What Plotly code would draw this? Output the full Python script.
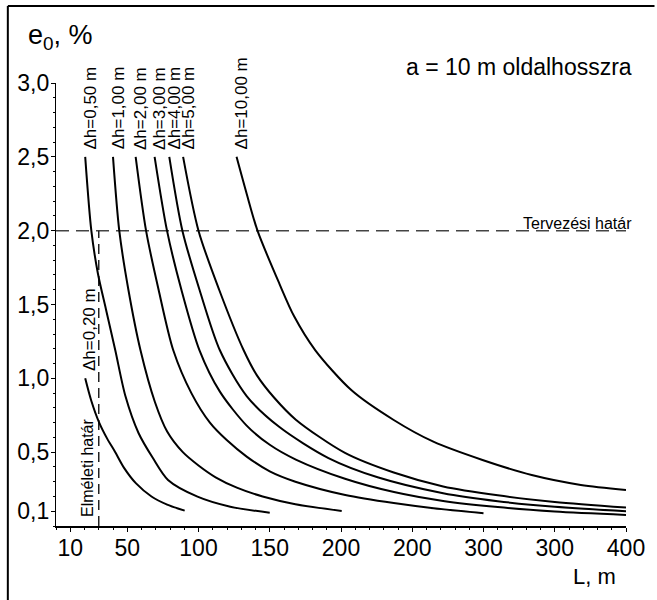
import plotly.graph_objects as go

# Δh curves: L [m] and e0 [%] pairs
L_020 = [20.5, 24.7, 30.3, 36, 41, 48, 56, 67, 78, 90.3]
e_020 = [1.0, 0.85, 0.70, 0.59, 0.51, 0.39, 0.29, 0.20, 0.145, 0.104]

L_050 = [20.5, 24.8, 29.4, 35, 41.6, 48.7, 57.9, 68, 78.6, 99.3, 122.3, 150]
e_050 = [2.5, 2.0, 1.71, 1.47, 1.19, 0.88, 0.63, 0.46, 0.312, 0.199, 0.131, 0.09]

L_100 = [40, 44.4, 50.8, 59.3, 69.4, 78, 89, 100, 112, 126.9, 145, 168, 200.5]
e_100 = [2.5, 2.0, 1.6, 1.19, 0.84, 0.64, 0.5, 0.41, 0.33, 0.26, 0.2, 0.148, 0.102]

L_200 = [55.9, 63.2, 72, 82.3, 95, 108, 120, 133.8, 150, 168, 203, 237, 265, 300]
e_200 = [2.5, 2.0, 1.6, 1.19, 0.90, 0.70, 0.58, 0.47, 0.37, 0.30, 0.21, 0.155, 0.12, 0.087]

L_300 = [69.2, 77.9, 88, 100.7, 115, 133.8, 150, 168.3, 202.8, 237.2, 271.7, 310, 350, 400]
e_300 = [2.5, 2.0, 1.6, 1.19, 0.91, 0.68, 0.55, 0.45, 0.32, 0.23, 0.17, 0.128, 0.098, 0.075]

L_400 = [79.5, 88.7, 100.7, 115, 133.8, 156.8, 191.2, 225.7, 271.7, 310, 350, 400]
e_400 = [2.5, 2.0, 1.6, 1.19, 0.88, 0.67, 0.46, 0.33, 0.222, 0.168, 0.13, 0.10]

L_500 = [89.2, 100, 114.5, 131.7, 141, 153, 168.3, 202.8, 237, 271.7, 310, 350, 400]
e_500 = [2.5, 2.0, 1.6, 1.19, 1.02, 0.87, 0.72, 0.495, 0.362, 0.268, 0.208, 0.163, 0.125]

L_1000 = [126.7, 133.8, 141.4, 156.8, 167.1, 182, 207.4, 237, 264.8, 299.3, 333.8, 368.3, 400]
e_1000 = [2.5, 2.25, 2.0, 1.64, 1.42, 1.19, 0.919, 0.718, 0.571, 0.447, 0.345, 0.278, 0.244]

curve_labels = ["Δh=0,20 m", "Δh=0,50 m", "Δh=1,00 m", "Δh=2,00 m",
                "Δh=3,00 m", "Δh=4,00 m", "Δh=5,00 m", "Δh=10,00 m"]

# Limits
design_limit = 2.0      # Tervezési határ (e0)
theory_limit = 30       # Elméleti határ (L)

x_tickvals = [10, 50, 100, 150, 200, 250, 300, 350, 400]
x_ticktext = ["10", "50", "100", "150", "200", "200", "300", "300", "400"]
y_tickvals = [0.1, 0.5, 1.0, 1.5, 2.0, 2.5, 3.0]
y_ticktext = ["0,1", "0,5", "1,0", "1,5", "2,0", "2,5", "3,0"]

FONT = "Liberation Sans, Arial, Helvetica, sans-serif"

curves = [(L_020, e_020), (L_050, e_050), (L_100, e_100), (L_200, e_200),
          (L_300, e_300), (L_400, e_400), (L_500, e_500), (L_1000, e_1000)]

fig = go.Figure()

# limit lines
fig.add_trace(go.Scatter(x=[0, 400], y=[design_limit, design_limit], mode="lines",
                         line=dict(color="#444", width=1.5, dash="13px,7px"),
                         hoverinfo="skip", showlegend=False))
fig.add_trace(go.Scatter(x=[theory_limit, theory_limit], y=[0, design_limit], mode="lines",
                         line=dict(color="#222", width=1.5, dash="10px,6px"),
                         hoverinfo="skip", showlegend=False))

for (xs, ys), name in zip(curves, curve_labels):
    fig.add_trace(go.Scatter(x=xs, y=ys, mode="lines", name=name,
                             line=dict(color="black", width=2, shape="spline", smoothing=0.8),
                             showlegend=False))

annotations = []
for (xs, ys), name in zip(curves, curve_labels):
    annotations.append(dict(x=xs[0], y=ys[0], xref="x", yref="y", text=name,
                            textangle=-90, showarrow=False, xanchor="center", yanchor="bottom",
                            xshift=5, yshift=5, font=dict(family=FONT, size=17, color="black")))

annotations += [
    dict(x=400, y=design_limit, xref="x", yref="y", text="Tervezési határ", showarrow=False,
         xanchor="right", yanchor="bottom", xshift=8, yshift=-3,
         font=dict(family=FONT, size=16, color="black")),
    dict(x=22, y=0.05, xref="x", yref="y", text="Elméleti határ", textangle=-90, showarrow=False,
         xanchor="center", yanchor="bottom", font=dict(family=FONT, size=16, color="black")),
    dict(x=400, y=1.036, xref="x", yref="paper", text="a = 10 m oldalhosszra", showarrow=False,
         xanchor="right", yanchor="middle", xshift=8,
         font=dict(family=FONT, size=23, color="black")),
    dict(x=-0.0534, y=1.104, xref="paper", yref="paper", text="e<sub>0</sub>, %", showarrow=False,
         xanchor="left", yanchor="middle", font=dict(family=FONT, size=27, color="black")),
    dict(x=0.945, y=-0.115, xref="paper", yref="paper", text="L, m", showarrow=False,
         xanchor="center", yanchor="middle", font=dict(family=FONT, size=22, color="black")),
]

# outer frame (top and left edges fall inside the page)
shapes = [
    dict(type="line", xref="paper", yref="paper", x0=-0.0845, x1=1.05, y0=1.1738, y1=1.1738,
         line=dict(color="black", width=2)),
    dict(type="line", xref="paper", yref="paper", x0=-0.0845, x1=-0.0845, y0=1.1738, y1=-0.2,
         line=dict(color="black", width=2)),
]

fig.update_layout(
    width=657, height=600,
    margin=dict(l=56, r=21, t=83, b=74),
    paper_bgcolor="white", plot_bgcolor="white",
    font=dict(family=FONT, color="black"),
    annotations=annotations, shapes=shapes,
    xaxis=dict(range=[0, 400], showgrid=False, zeroline=False, showline=True,
               linecolor="black", linewidth=2, ticks="outside", ticklen=4, tickwidth=1,
               tickcolor="black", tickvals=x_tickvals, ticktext=x_ticktext,
               ticklabelstandoff=-4,
               tickfont=dict(family=FONT, size=23, color="black"),
               minor=dict(ticks="outside", dtick=10, tick0=0, ticklen=2, tickcolor="black")),
    yaxis=dict(range=[0, 3.0], showgrid=False, zeroline=False, showline=True,
               linecolor="black", linewidth=1.2, ticks="outside", ticklen=4, tickwidth=1,
               tickcolor="black", tickvals=y_tickvals, ticktext=y_ticktext,
               ticklabelstandoff=-3,
               tickfont=dict(family=FONT, size=23, color="black"),
               minor=dict(ticks="outside", dtick=0.1, tick0=0, ticklen=2, tickcolor="black")),
)

fig.write_html("out.html")
